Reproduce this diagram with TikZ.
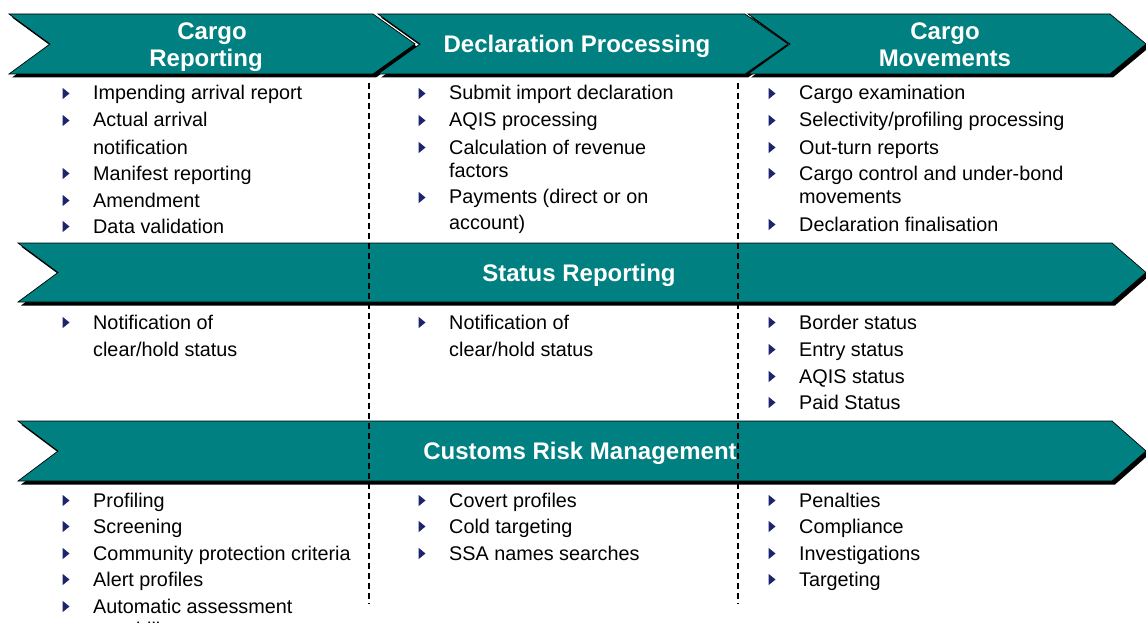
\documentclass[tikz,border=0pt]{standalone}
\usepackage{fontspec}
\setmainfont{Liberation Sans}
\definecolor{teal}{RGB}{0,128,128}
\definecolor{navy}{RGB}{28,36,110}
\tikzset{
  band/.style={fill=teal, draw=black, line width=0.7pt, line join=miter},
  bandshadow/.style={fill=black},
  headtxt/.style={text=white, font=\fontsize{24}{28}\selectfont\bfseries, inner sep=0pt, anchor=base},
  bodytxt/.style={text=black, font=\fontsize{19.8}{24}\selectfont, inner sep=0pt, anchor=base west},
  bulletmark/.style={fill=navy},
  divider/.style={draw=black, line width=2.2pt, dash pattern=on 6pt off 4pt}
}
% chevron: L, notch depth, R corner, tip x, top y, bottom y
\newcommand\mychev[6]{%
  \pgfmathsetmacro\ym{(#5+#6)/2}%
  \fill[bandshadow] ({#1+3},{#5+3.5}) -- ({#3+3},{#5+3.5}) -- ({#4+3},{\ym+3.5}) -- ({#3+3},{#6+3.5}) -- ({#1+3},{#6+3.5}) -- ({#1+#2+3},{\ym+3.5}) -- cycle;
  \path[band] (#1,#5) -- (#3,#5) -- (#4,\ym) -- (#3,#6) -- (#1,#6) -- ({#1+#2},\ym) -- cycle;
}
% item: name, x of text, y centre, text
\newcommand\myitem[4]{%
  \fill[bulletmark] ({#2-30.5},{#3-5.2}) -- ({#2-23.5},{#3+0.5}) -- ({#2-30.5},{#3+6.2}) -- cycle;
  \node[bodytxt] (#1) at (#2,{#3+7}) {#4};
}
\newcommand\myline[4]{%
  \node[bodytxt] (#1) at (#2,{#3+7}) {#4};
}
\begin{document}
\begin{tikzpicture}[x=1pt,y=-1pt]
\useasboundingbox (0,0) rectangle (1146,623);
% top chevrons
\mychev{9}{41}{373}{415}{14}{74}
\mychev{378}{42}{745}{788}{14}{74}
\mychev{748}{42}{1110}{1146}{14}{74}
% bands
\mychev{18}{40}{1112}{1146}{243}{302}
\mychev{18}{40}{1112}{1146}{421}{481}
% headings
\node[headtxt] (h1a) at (212,40) {Cargo};
\node[headtxt] (h1b) at (206,67) {Reporting};
\node[headtxt] (h2) at (577,53) {Declaration Processing};
\node[headtxt] (h3a) at (945,40) {Cargo};
\node[headtxt] (h3b) at (945,67) {Movements};
\node[headtxt] (h4) at (579,281) {Status Reporting};
\node[headtxt] (h5) at (580,459) {Customs Risk Management};
% row 1
\myitem{a1}{93}{93}{Impending arrival report}
\myitem{a2}{93}{120}{Actual arrival}
\myline{a2b}{93}{147}{notification}
\myitem{a3}{93}{173}{Manifest reporting}
\myitem{a4}{93}{200}{Amendment}
\myitem{a5}{93}{226}{Data validation}
\myitem{b1}{449}{93}{Submit import declaration}
\myitem{b2}{449}{120}{AQIS processing}
\myitem{b3}{449}{147}{Calculation of revenue}
\myline{b3b}{449}{171}{factors}
\myitem{b4}{449}{197}{Payments (direct or on}
\myline{b4b}{449}{222}{account)}
\myitem{c1}{799}{93}{Cargo examination}
\myitem{c2}{799}{120}{Selectivity/profiling processing}
\myitem{c3}{799}{147}{Out-turn reports}
\myitem{c4}{799}{173}{Cargo control and under-bond}
\myline{c4b}{799}{197}{movements}
\myitem{c5}{799}{224}{Declaration finalisation}
% row 2
\myitem{d1}{93}{322}{Notification of}
\myline{d1b}{93}{349}{clear/hold status}
\myitem{e1}{449}{322}{Notification of}
\myline{e1b}{449}{349}{clear/hold status}
\myitem{f1}{799}{322}{Border status}
\myitem{f2}{799}{349}{Entry status}
\myitem{f3}{799}{376}{AQIS status}
\myitem{f4}{799}{402}{Paid Status}
% row 3
\myitem{g1}{93}{500}{Profiling}
\myitem{g2}{93}{526}{Screening}
\myitem{g3}{93}{553}{Community protection criteria}
\myitem{g4}{93}{579}{Alert profiles}
\myitem{g5}{93}{606}{Automatic assessment}
\myline{g5b}{93}{629}{capability}
\myitem{k1}{449}{500}{Covert profiles}
\myitem{k2}{449}{526}{Cold targeting}
\myitem{k3}{449}{553}{SSA names searches}
\myitem{m1}{799}{500}{Penalties}
\myitem{m2}{799}{526}{Compliance}
\myitem{m3}{799}{553}{Investigations}
\myitem{m4}{799}{579}{Targeting}
% dividers
\coordinate (v1top) at (369,83);
\coordinate (v1bot) at (369,604);
\coordinate (v2top) at (738,83);
\coordinate (v2bot) at (738,604);
\draw[divider] (v1top) -- (v1bot);
\draw[divider] (v2top) -- (v2bot);
\end{tikzpicture}
\end{document}
